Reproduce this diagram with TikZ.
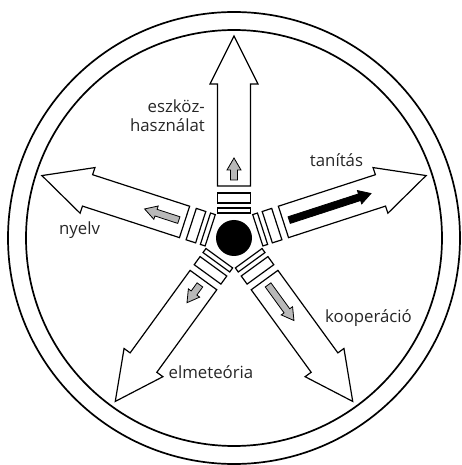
\documentclass[tikz,border=0pt]{standalone}
\usepackage{fontspec}
\setmainfont{Open Sans}
\usepackage{tikz}

\begin{document}
\begin{tikzpicture}[
    x=1pt, y=1pt,
    rim/.style = {draw, line width=1.7pt},
    hub/.style = {circle, fill=black, minimum size=36pt, inner sep=0pt},
    bigarrow/.style = {draw, line width=1.2pt, fill=white, line join=miter},
    slot/.style = {draw, line width=1.2pt, fill=white},
    level/.style = {draw, line width=0.8pt, line join=miter},
    lbl/.style = {font=\fontsize{16.8}{19}\selectfont, text=black!85, inner sep=0pt}
]
    \useasboundingbox (-234,-227) rectangle (227,238);
    \draw[rim] (0,0) circle (226);
    \draw[rim] (0,0) circle (208);
    \node[hub] (hub) at (0,0) {};

    \foreach \ang/\len/\col in {90/80/gray!55, 18/144/black, 162/94/gray!55, 234/80/gray!55, 306/102/gray!55}{
        \begin{scope}[rotate=\ang]
            \draw[slot] (25,-16.5) rectangle (30,16.5);
            \draw[slot] (35,-16.5) rectangle (45,16.5);
            \draw[bigarrow] (52,-16.5) -- (154,-16.5) -- (154,-24) -- (202,0) -- (154,24) -- (154,16.5) -- (52,16.5) -- cycle;
            \draw[level, fill=\col] (58,-3.5) -- (\len-12,-3.5) -- (\len-12,-7) -- (\len,0) -- (\len-12,7) -- (\len-12,3.5) -- (58,3.5) -- cycle;
        \end{scope}
    }

    \node[lbl, anchor=east, align=right] (eszkoz) at (-29,122) {eszköz-\\használat};
    \node[lbl] (tanitas) at (102.5,78) {tanítás};
    \node[lbl] (nyelv) at (-154.5,8) {nyelv};
    \node[lbl] (elme) at (-23,-134) {elmeteória};
    \node[lbl] (koop) at (134.5,-80) {kooperáció};
\end{tikzpicture}
\end{document}
